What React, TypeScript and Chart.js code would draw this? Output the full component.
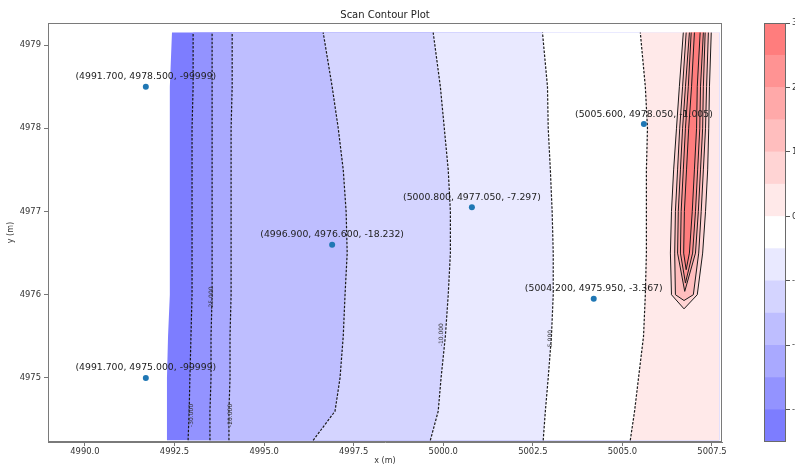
import React, { useEffect, useRef } from 'react';
import { Chart, registerables } from 'chart.js';

Chart.register(...registerables);

const FONT = 'DejaVu Sans';
const TITLE = 'Scan Contour Plot';

// axis ranges and ticks
const xRange = [4988.97, 5007.78];
const yRange = [4974.23, 4979.265];
const xTicks = [4990, 4992.5, 4995, 4997.5, 5000, 5002.5, 5005, 5007.5];
const yTicks = [4975, 4976, 4977, 4978, 4979];

// contour grid rows (y, m) and the x-position of each contour level on each row
const rowY = [4974.25, 4974.6, 4975.0, 4975.5, 4976.0, 4976.5, 4977.0, 4977.5, 4978.0, 4978.5, 4979.15];
const gridLeft = [4992.29, 4992.29, 4992.29, 4992.32, 4992.37, 4992.37, 4992.37, 4992.37, 4992.37, 4992.37, 4992.43];
const gridRight = 5007.7;
const levelM30 = [4992.88, 4992.91, 4992.93, 4992.96, 4992.99, 4992.99, 4992.99, 4992.99, 4992.99, 4993.02, 4993.02];
const levelM25 = [4993.49, 4993.49, 4993.52, 4993.52, 4993.55, 4993.55, 4993.55, 4993.55, 4993.55, 4993.55, 4993.55];
const levelM20 = [4994.02, 4994.02, 4994.05, 4994.05, 4994.08, 4994.08, 4994.08, 4994.08, 4994.08, 4994.11, 4994.11];
const levelM15 = [4996.37, 4996.98, 4997.12, 4997.21, 4997.26, 4997.32, 4997.29, 4997.21, 4997.07, 4996.90, 4996.65];
const levelM10 = [4999.64, 4999.86, 4999.94, 5000.06, 5000.14, 5000.20, 5000.20, 5000.14, 5000.03, 4999.92, 4999.72];
const levelM5 = [5002.79, 5002.85, 5002.93, 5003.02, 5003.07, 5003.07, 5003.04, 5002.99, 5002.93, 5002.91, 5002.77];
const level0 = [5005.22, 5005.34, 5005.45, 5005.59, 5005.64, 5005.67, 5005.67, 5005.67, 5005.70, 5005.64, 5005.50];

// positive ridge (closed contours), rows from the top of the grid downward
const ridgeY = [4979.15, 4978.5, 4978.0, 4977.5, 4977.0, 4976.5, 4976.0];
const ridge5L = [5006.70, 5006.59, 5006.51, 5006.43, 5006.37, 5006.34, 5006.37];
const ridge5R = [5007.48, 5007.43, 5007.41, 5007.38, 5007.32, 5007.24, 5007.09];
const ridge5Tip = [5006.72, 4975.83];
const ridge10L = [5006.78, 5006.68, 5006.60, 5006.54, 5006.48, 5006.46, 5006.48];
const ridge10R = [5007.40, 5007.35, 5007.32, 5007.26, 5007.20, 5007.13, 5006.98];
const ridge10Tip = [5006.72, 4975.93];
const ridge15L = [5006.87, 5006.76, 5006.68, 5006.62, 5006.56, 5006.54];
const ridge15R = [5007.31, 5007.26, 5007.24, 5007.18, 5007.12, 5007.04];
const ridge15Tip = [5006.74, 4976.04];
const ridge20L = [5006.92, 5006.84, 5006.76, 5006.70, 5006.64, 5006.62];
const ridge20R = [5007.26, 5007.18, 5007.16, 5007.10, 5007.04, 5006.96];
const ridge20Tip = [5006.76, 4976.14];
const ridge25L = [5007.01, 5006.93, 5006.85, 5006.79, 5006.73, 5006.71];
const ridge25R = [5007.17, 5007.09, 5007.07, 5007.01, 5006.95, 5006.87];
const ridge25Tip = [5006.78, 4976.30];

// colour levels (bwr) from -35 to 30, step 5
const cbLevels = [-35, -30, -25, -20, -15, -10, -5, 0, 5, 10, 15, 20, 25, 30];
const bandColors = [
  '#7d7dff', '#9393ff', '#a9a9ff', '#bebeff', '#d4d4ff', '#e9e9ff', '#ffffff',
  '#ffe9e9', '#ffd4d4', '#ffbebe', '#ffa9a9', '#ff9393', '#ff7d7d',
];
const cbTicks = [30, 20, 10, 0, -10, -20, -30];

// scan points
const ptX = [4991.7, 4991.7, 4996.9, 5000.8, 5004.2, 5005.6];
const ptY = [4978.5, 4975.0, 4976.6, 4977.05, 4975.95, 4978.05];
const ptLabels = [
  '(4991.700, 4978.500, -99999)',
  '(4991.700, 4975.000, -99999)',
  '(4996.900, 4976.600, -18.232)',
  '(5000.800, 4977.050, -7.297)',
  '(5004.200, 4975.950, -3.367)',
  '(5005.600, 4978.050, -1.005)',
];

// inline contour labels
const clabelX = [4992.96, 4993.52, 4994.05, 4999.94, 5002.99];
const clabelY = [4974.55, 4975.96, 4974.55, 4975.52, 4975.46];
const clabelText = ['-30.000', '-25.000', '-20.000', '-10.000', '-5.000'];

const zip = (xs: number[], ys: number[]) => xs.map((x, i) => ({ x, y: ys[i] }));

export default function App() {
  const mainRef = useRef<HTMLCanvasElement>(null);
  const cbRef = useRef<HTMLCanvasElement>(null);

  useEffect(() => {
    Chart.defaults.font.family = FONT;
    const datasets: any[] = [];
    const top = rowY[rowY.length - 1];
    const bottom = rowY[0];
    const boundaries = [gridLeft, levelM30, levelM25, levelM20, levelM15, levelM10, levelM5, level0];
    boundaries.forEach((b, k) => {
      datasets.push({
        data: [...zip(b, rowY), { x: gridRight, y: top }, { x: gridRight, y: bottom }],
        fill: 'shape',
        backgroundColor: bandColors[k],
        borderColor: 'rgba(0,0,0,0)',
        borderWidth: 0,
        pointRadius: 0,
        order: 100 - k,
      });
    });
    const ridges = [
      [ridge5L, ridge5R, ridge5Tip],
      [ridge10L, ridge10R, ridge10Tip],
      [ridge15L, ridge15R, ridge15Tip],
      [ridge20L, ridge20R, ridge20Tip],
      [ridge25L, ridge25R, ridge25Tip],
    ];
    ridges.forEach(([L, R, tip], j) => {
      const ys = ridgeY.slice(0, L.length);
      const left = zip(L as number[], ys);
      const right = zip(R as number[], ys).reverse();
      datasets.push({
        data: [...left, { x: (tip as number[])[0], y: (tip as number[])[1] }, ...right],
        fill: 'shape',
        backgroundColor: bandColors[8 + j],
        borderColor: '#1a1a1a',
        borderWidth: 1,
        pointRadius: 0,
        order: 50 - j,
      });
    });
    boundaries.slice(1).forEach((b) => {
      datasets.push({
        data: zip(b, rowY),
        fill: false,
        borderColor: '#1a1a1a',
        borderWidth: 1.2,
        borderDash: [2.5, 1.5],
        pointRadius: 0,
        order: 20,
      });
    });
    const scatterIndex = datasets.length;
    datasets.push({
      data: zip(ptX, ptY),
      showLine: false,
      fill: false,
      pointRadius: 3,
      pointBackgroundColor: '#1f77b4',
      pointBorderColor: '#1f77b4',
      pointBorderWidth: 0,
      order: 0,
    });

    const framePlugin = {
      id: 'frame',
      afterDatasetsDraw(chart: any) {
        const { ctx, chartArea: a, scales } = chart;
        ctx.save();
        // contour labels
        ctx.font = `6px "${FONT}"`;
        ctx.fillStyle = '#333';
        ctx.textAlign = 'center';
        ctx.textBaseline = 'middle';
        clabelX.forEach((v, i) => {
          const px = scales.x.getPixelForValue(v);
          const py = scales.y.getPixelForValue(clabelY[i]);
          ctx.save();
          ctx.translate(px, py);
          ctx.rotate(-Math.PI / 2);
          ctx.fillText(clabelText[i], 0, 0);
          ctx.restore();
        });
        // point labels
        const meta = chart.getDatasetMeta(scatterIndex);
        ctx.font = `9.3px "${FONT}"`;
        ctx.fillStyle = '#222';
        meta.data.forEach((el: any, i: number) => {
          ctx.fillText(ptLabels[i], el.x, el.y - 10);
        });
        // frame
        ctx.strokeStyle = '#7a7a7a';
        ctx.lineWidth = 1;
        ctx.strokeRect(a.left + 0.5, a.top + 0.5, a.right - a.left - 1, a.bottom - a.top - 1);
        // title
        ctx.font = `10px "${FONT}"`;
        ctx.fillStyle = '#222';
        ctx.fillText(TITLE, (a.left + a.right) / 2, a.top - 8);
        ctx.restore();
      },
    };

    const tickFont = { family: FONT, size: 8.4 };
    const main = new Chart(mainRef.current as HTMLCanvasElement, {
      type: 'line',
      data: { datasets },
      options: {
        animation: false,
        responsive: false,
        indexAxis: 'y',
        layout: { padding: { left: 6, right: 73, top: 23, bottom: 0 } },
        plugins: { legend: { display: false }, tooltip: { enabled: false }, title: { display: false } },
        scales: {
          x: {
            type: 'linear',
            position: 'bottom',
            min: xRange[0],
            max: xRange[1],
            afterFit: (s: any) => { s.height = 24; },
            afterBuildTicks: (s: any) => { s.ticks = xTicks.map((v) => ({ value: v })); },
            ticks: { font: tickFont, color: '#333', padding: 1, maxRotation: 0, autoSkip: false, callback: (v: any) => Number(v).toFixed(1) },
            grid: { drawOnChartArea: false, drawTicks: true, tickLength: 4, color: '#777' },
            border: { display: true, color: '#7a7a7a' },
            title: { display: true, text: 'x (m)', font: { family: FONT, size: 8 }, color: '#333', padding: 0 },
          },
          y: {
            type: 'linear',
            position: 'left',
            min: yRange[0],
            max: yRange[1],
            afterFit: (s: any) => { s.width = 42; },
            afterBuildTicks: (s: any) => { s.ticks = yTicks.map((v) => ({ value: v })); },
            ticks: { font: tickFont, color: '#333', padding: 3, autoSkip: false, callback: (v: any) => String(Math.round(Number(v))) },
            grid: { drawOnChartArea: false, drawTicks: true, tickLength: 4, color: '#777' },
            border: { display: true, color: '#7a7a7a' },
            title: { display: true, text: 'y (m)', font: { family: FONT, size: 8 }, color: '#333', padding: 0 },
          },
        },
      },
      plugins: [framePlugin],
    } as any);

    const cbFrame = {
      id: 'cbframe',
      afterDatasetsDraw(chart: any) {
        const { ctx, chartArea: a } = chart;
        ctx.save();
        ctx.strokeStyle = '#6a6a6a';
        ctx.lineWidth = 1;
        ctx.strokeRect(a.left + 0.5, a.top + 0.5, a.right - a.left - 1, a.bottom - a.top - 1);
        ctx.restore();
      },
    };
    const cbDatasets = bandColors.map((c, i) => ({
      data: [[cbLevels[i], cbLevels[i + 1]]],
      backgroundColor: c,
      borderWidth: 0,
      grouped: false,
      barPercentage: 1,
      categoryPercentage: 1,
    }));
    const cb = new Chart(cbRef.current as HTMLCanvasElement, {
      type: 'bar',
      data: { labels: [''], datasets: cbDatasets },
      options: {
        animation: false,
        responsive: false,
        layout: { padding: { left: 24, right: 0, top: 23, bottom: 24 } },
        plugins: { legend: { display: false }, tooltip: { enabled: false } },
        scales: {
          x: { display: false },
          y: {
            type: 'linear',
            position: 'right',
            min: cbLevels[0],
            max: cbLevels[cbLevels.length - 1],
            afterFit: (s: any) => { s.width = 9; },
            afterBuildTicks: (s: any) => { s.ticks = cbTicks.map((v) => ({ value: v })); },
            ticks: { font: tickFont, color: '#333', padding: 2, autoSkip: false },
            grid: { drawOnChartArea: false, drawTicks: true, tickLength: 4, color: '#555' },
            border: { display: false },
          },
        },
      },
      plugins: [cbFrame],
    } as any);

    return () => {
      main.destroy();
      cb.destroy();
    };
  }, []);

  return (
    <div style={{ position: 'absolute', left: 0, top: 0, width: 795, height: 466, background: '#fff', overflow: 'hidden' }}>
      <canvas ref={mainRef} width={795} height={466} style={{ position: 'absolute', left: 0, top: 0 }} />
      <canvas ref={cbRef} width={55} height={466} style={{ position: 'absolute', left: 740, top: 0 }} />
    </div>
  );
}
